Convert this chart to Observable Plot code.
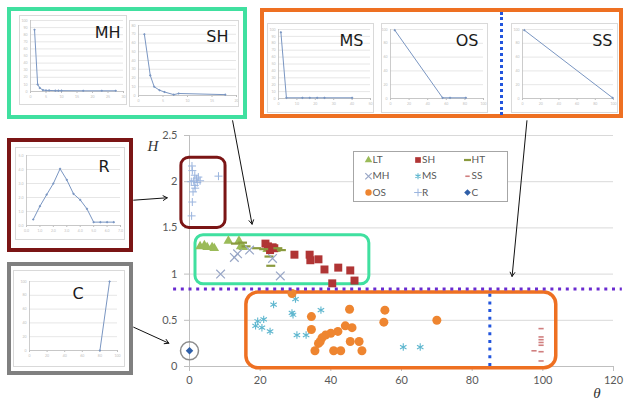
<!DOCTYPE html>
<html><head><meta charset="utf-8">
<script src="https://cdn.jsdelivr.net/npm/d3@7"></script>
<script src="https://cdn.jsdelivr.net/npm/@observablehq/plot@0.6"></script>
<style>
html,body{margin:0;padding:0;background:#fff;}
#root{position:relative;width:625px;height:407px;overflow:hidden;font-family:Lato,sans-serif;}
.frame{position:absolute;box-sizing:border-box;background:#fff;}
.main g[aria-label^="x-axis"] line,.main g[aria-label^="y-axis"] line,.main g[aria-label$="tick"] path{stroke:#bfbfbf;}
</style></head><body><div id="root"></div>
<script>
// ---- main scatter data [theta, H] ----
const LT = [[3,1.30],[4.2,1.31],[5,1.29],[6.4,1.29],[7,1.28],[11,1.36],[14,1.36],[14.5,1.30],[15.2,1.29],[22,1.27],[24.5,1.27]];
const SH = [[21.5,1.33],[22.2,1.30],[23.5,1.29],[22.8,1.26],[24,1.28],[29.7,1.21],[34,1.21],[34.2,1.15],[36.5,1.16],[38.2,1.05],[42.1,1.07],[45.5,1.04],[46.7,0.93],[40.4,0.90]];
const HT = [[13,1.33],[15,1.34],[16,1.30],[19,1.28],[21,1.27],[22.5,1.19],[23,1.09],[25,1.28],[26,1.26]];
const MH = [[8.8,1.0],[12.7,1.18],[13.6,1.22],[17,1.26],[23.5,1.17],[25.7,0.98]];
const MS = [[23.8,0.67],[30,0.73],[29.3,0.56],[29,0.58],[37.2,0.61],[19.3,0.49],[21,0.51],[18.7,0.44],[20.5,0.42],[22.8,0.38],[30.4,0.34],[33,0.34],[60.5,0.21],[65.3,0.21]];
const SS = [[99.5,0.41],[99.5,0.32],[99.5,0.29],[99.5,0.26],[99.5,0.23],[97.5,0.17],[99.5,0.16],[99.5,0.06]];
const OS = [[29,0.79],[34.5,0.54],[34.5,0.40],[45.3,0.62],[55.3,0.61],[55,0.48],[70,0.50],[44.1,0.44],[46,0.42],[42,0.38],[40,0.36],[38.5,0.34],[37.5,0.31],[37,0.27],[36.5,0.25],[45.5,0.27],[48,0.27],[35.5,0.17],[40.8,0.17],[42.8,0.17],[48.8,0.17]];
const R = [[0.7,2.17],[0.8,2.12],[1.5,2.07],[2,2.03],[1.2,2.01],[3,2.01],[2.2,1.99],[1.5,1.96],[1.6,1.93],[1,1.89],[0.8,1.78],[0.6,1.63],[8.2,2.06],[0.5,2.0],[2.5,2.05]];
const C = [[0,0.17]];
const legendNames = ["LT","SH","HT","MH","MS","SS","OS","R","C"];
const xTicks = [0,20,40,60,80,100,120];
const yTicks = [0,0.5,1,1.5,2,2.5];
const thresholdH = [0.84];
const thresholdTheta = [85];

// ---- inset curves [x, y] ----
const MH_curve = [[1.3,87],[2.3,10],[3,5],[4,2],[5,1.5],[6,1.5],[8,1.2],[9,1.2],[10,1.2],[17,1],[23,1],[27.5,1]];
const SH_curve = [[1.2,70],[2.4,23],[3.2,10],[4.3,6],[5.3,4],[7.2,1],[8.2,2.3],[17.7,1]];
const MS_curve = [[1.3,96],[4.3,1],[13,1],[17,1],[21,1],[25,1],[40,1]];
const OS_curve = [[4.6,99],[56,1],[64,1],[81,1]];
const SS_curve = [[2,99],[99,1]];
const R_curve = [[0.5,0.43],[1,1.38],[1.5,2.2],[2,3.0],[2.5,4.05],[3,3.26],[3.5,2.26],[4,1.83],[4.5,1.19],[5,0.24],[5.5,0.24],[6,0.24],[6.5,0.24]];
const C_curve = [[80,0],[91,100]];

// ---- rendering ----
const dash = {draw(c, s){ const w = Math.sqrt(s/Math.PI); c.moveTo(-w,0); c.lineTo(w,0); }};
const xy = {x: d => d[0], y: d => d[1]};
const series = [
  {name:"LT", data:LT, symbol:"triangle", fill:"#9bbb59", r:3.6, lr:2.8},
  {name:"SH", data:SH, symbol:"square", fill:"#b03535", r:4.5, lr:3.2},
  {name:"HT", data:HT, symbol:dash, stroke:"#8a9a3e", sw:2.2, r:4.5, lr:3.5},
  {name:"MH", data:MH, symbol:"times", stroke:"#98a6c6", sw:1.2, r:4.0, lr:3},
  {name:"MS", data:MS, symbol:"asterisk", stroke:"#5fb7cf", sw:1.1, r:3.5, lr:2.8},
  {name:"SS", data:SS, symbol:dash, stroke:"#d07f7f", sw:1.6, r:2.6, lr:2.2},
  {name:"OS", data:OS, symbol:"circle", fill:"#ee8530", r:4.5, lr:3.2},
  {name:"R", data:R, symbol:"plus", stroke:"#9ab4de", sw:1, r:2.7, lr:2.6},
  {name:"C", data:C, symbol:"diamond2", fill:"#2f5fa8", r:3.4, lr:3}
];
const byName = Object.fromEntries(series.map(s => [s.name, s]));
function dotOpts(s, r){
  return s.fill ? {symbol:s.symbol, r, fill:s.fill, stroke:"none"}
                : {symbol:s.symbol, r, fill:"none", stroke:s.stroke, strokeWidth:s.sw};
}

// annotation shapes (in data space)
const boxes = [
  {x1:-2.3, x2:10.2, y1:1.50, y2:2.26, color:"#7b1515", rx:8, w:3},
  {x1:1.7, x2:50.9, y1:0.89, y2:1.42, color:"#40e0a0", rx:8, w:3},
  {x1:16.1, x2:103.8, y1:-0.02, y2:0.80, color:"#ee7022", rx:12, w:3.5}
];
const arrows = [
  {x1:12.2, y1:2.66, x2:17.7, y2:1.54},
  {x1:95.5, y1:2.66, x2:91.3, y2:0.975},
  {x1:-15.8, y1:1.80, x2:-6.3, y2:1.826},
  {x1:-15.8, y1:0.425, x2:-5.85, y2:0.252}
];

const root = document.getElementById("root");

const main = Plot.plot({
  width:625, height:407,
  marginLeft:189, marginRight:12, marginTop:135, marginBottom:41,
  x:{domain:[0,120], ticks:xTicks, tickSize:5, tickPadding:5, label:null},
  y:{domain:[0,2.5], ticks:yTicks, tickSize:5, tickPadding:7, label:null, tickFormat:d => String(d)},
  style:{fontFamily:"Lato, sans-serif", fontSize:"11px", color:"#595959", background:"transparent", overflow:"visible"},
  marks:[
    Plot.ruleY(yTicks.slice(1), {stroke:"#d9d9d9"}),
    Plot.ruleY([0], {stroke:"#bfbfbf"}),
    Plot.ruleX([0], {stroke:"#bfbfbf"}),
    ...boxes.map(b => Plot.rect([b], {x1:"x1", x2:"x2", y1:"y1", y2:"y2", rx:b.rx, fill:"none", stroke:b.color, strokeWidth:b.w})),
    ...series.map(s => Plot.dot(s.data, {...xy, ...dotOpts(s, s.r)})),
    Plot.dot(C, {...xy, r:9, fill:"none", stroke:"#8c8c8c", strokeWidth:1.5}),
    Plot.ruleY(thresholdH, {x1:-4.5, x2:122.5, stroke:"#6a2bd0", strokeWidth:3, strokeDasharray:"3,4.7"}),
    Plot.ruleX(thresholdTheta, {y1:0, y2:0.79, stroke:"#2255dd", strokeWidth:3, strokeDasharray:"3,4.7"}),
    Plot.arrow(arrows, {x1:"x1", y1:"y1", x2:"x2", y2:"y2", stroke:"#111", strokeWidth:1, headLength:7}),
    Plot.text(["H"], {frameAnchor:"top-left", dx:-42, dy:5, fontFamily:"Liberation Serif, serif", fontStyle:"italic", fontSize:15, fill:"#333"}),
    Plot.text(["θ"], {frameAnchor:"bottom-right", dx:-13, dy:31, fontFamily:"Liberation Serif, serif", fontStyle:"italic", fontSize:15, fill:"#333"})
  ]
});
main.classList.add("main");
main.style.position = "absolute"; main.style.left = "0px"; main.style.top = "0px";
root.appendChild(main);

// frames of the inset groups
function frame(l, t, w, h, color){
  const d = document.createElement("div");
  d.className = "frame";
  Object.assign(d.style, {left:l+"px", top:t+"px", width:w+"px", height:h+"px", border:"4px solid "+color});
  root.appendChild(d);
}
frame(7, 7, 240, 112, "#40e0a0");
frame(260, 8, 363, 110, "#ee7022");
frame(7, 138, 126, 114, "#7b1515");
frame(7, 262, 126, 113, "#808080");

function mini(cfg){
  const {left, top, w, h, m, xd, xt, yd, yt, data, label, lab} = cfg;
  const p = Plot.plot({
    width:w, height:h, marginLeft:m[3], marginRight:m[1], marginTop:m[0], marginBottom:m[2],
    x:{domain:xd, ticks:xt, tickSize:2, tickPadding:2, label:null},
    y:{domain:yd, ticks:yt, tickSize:0, tickPadding:3, label:null},
    style:{fontSize:"3.5px", color:"#bdbdbd", background:"#fff", fontFamily:"Lato, sans-serif", outline:"1px solid #d9d9d9", outlineOffset:"-1px", overflow:"visible"},
    marks:[
      Plot.ruleY(yt, {stroke:"#e0e0e0", strokeWidth:0.8}),
      Plot.ruleX([xd[0]], {stroke:"#bfbfbf", strokeWidth:0.8}),
      Plot.ruleY([yd[0]], {stroke:"#bfbfbf", strokeWidth:0.8}),
      Plot.line(data, {...xy, stroke:"#7a96c2", strokeWidth:1}),
      Plot.dot(data, {...xy, symbol:"diamond2", r:1.2, fill:"#7a96c2"}),
      Plot.text([label], {frameAnchor:lab.anchor, dx:lab.dx, dy:lab.dy, textAnchor:lab.ta, lineAnchor:"bottom", fontFamily:"DejaVu Sans, sans-serif", fontSize:16, fill:"#1a1a1a"})
    ]
  });
  Object.assign(p.style, {position:"absolute", left:left+"px", top:top+"px"});
  root.appendChild(p);
}
const TR = (dx, dy) => ({anchor:"top-right", dx, dy, ta:"end"});
mini({left:19, top:15, w:108, h:90, m:[5,4,14,11], xd:[0,30], xt:d3.range(0,31,5), yd:[0,100], yt:d3.range(0,101,10), data:MH_curve, label:"MH", lab:TR(-3,17)});
mini({left:129, top:20, w:110, h:87, m:[5,3,12,9], xd:[0,20], xt:d3.range(0,21,5), yd:[0,80], yt:d3.range(0,81,10), data:SH_curve, label:"SH", lab:TR(-8,16)});
mini({left:267, top:23, w:107, h:90, m:[6,4,15,11], xd:[0,50], xt:d3.range(0,51,10), yd:[0,100], yt:d3.range(0,101,10), data:MS_curve, label:"MS", lab:TR(-7,16)});
mini({left:381, top:23, w:107, h:90, m:[6,5,15,9], xd:[0,100], xt:d3.range(0,101,20), yd:[0,100], yt:d3.range(0,101,20), data:OS_curve, label:"OS", lab:TR(-5,16)});
mini({left:511, top:23, w:107, h:90, m:[6,5,15,11], xd:[0,100], xt:d3.range(0,101,20), yd:[0,100], yt:d3.range(0,101,20), data:SS_curve, label:"SS", lab:TR(-1,16)});
mini({left:15, top:147, w:110, h:93, m:[8,5,15,11], xd:[0,7], xt:d3.range(0,8,1), yd:[0,5], yt:d3.range(0,6,1), data:R_curve, label:"R", lab:TR(-11,16)});
mini({left:13, top:270, w:112, h:97, m:[11,8,17,16], xd:[0,100], xt:d3.range(0,101,20), yd:[0,100], yt:d3.range(0,101,20), data:C_curve, label:"C", lab:{anchor:"top-left", dx:48.5, dy:17, ta:"middle"}});

// dotted threshold line in the top inset group
const v = document.createElement("div");
Object.assign(v.style, {position:"absolute", left:"499.5px", top:"12px", height:"103px", width:"0px", borderLeft:"3px dotted #2255dd"});
root.appendChild(v);

// legend
const leg = Plot.plot({
  width:155, height:51, margin:0,
  x:{domain:[0,2], range:[15,114], axis:null},
  y:{domain:[0,2], range:[8.5,41], axis:null},
  style:{background:"#fff", outline:"1px solid #a6a6a6", outlineOffset:"-1px", fontFamily:"Lato, sans-serif", overflow:"visible"},
  marks:[
    ...legendNames.map((n, i) => Plot.dot([n], {x:() => i % 3, y:() => Math.floor(i / 3), ...dotOpts(byName[n], byName[n].lr)})),
    Plot.text(legendNames, {x:(d, i) => i % 3, y:(d, i) => Math.floor(i / 3), text:d => d, dx:4, textAnchor:"start", fontSize:10, fill:"#595959"})
  ]
});
Object.assign(leg.style, {position:"absolute", left:"353px", top:"151px"});
root.appendChild(leg);
</script>
</body></html>
